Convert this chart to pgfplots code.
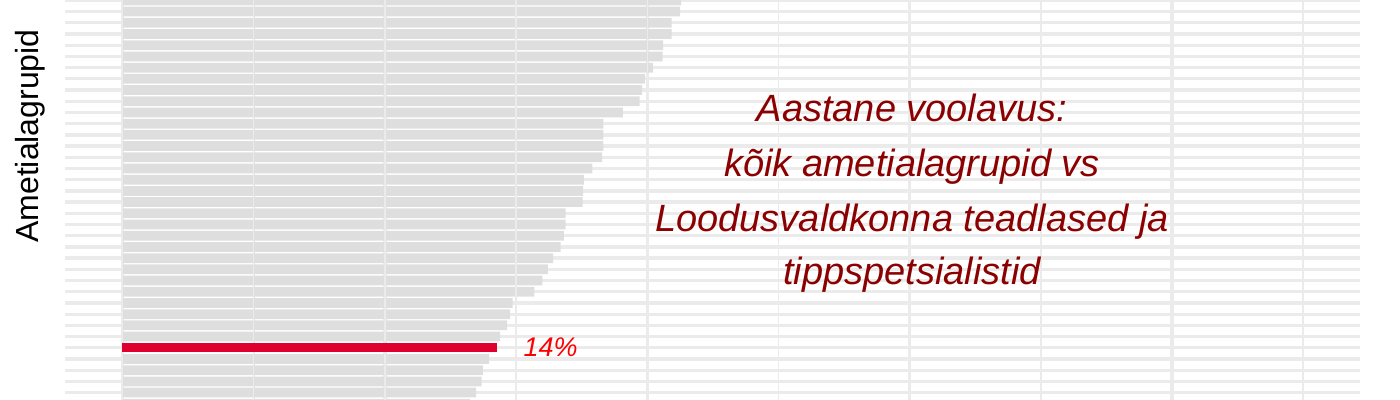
\documentclass[border=0pt]{standalone}
\usepackage{fontspec}
\setmainfont{Liberation Sans}
\usepackage{pgfplots}
\usepackage{pgfplotstable}
\pgfplotsset{compat=1.18}

\definecolor{gridc}{HTML}{EBEBEB}
\definecolor{barc}{HTML}{DEDEDE}
\definecolor{hilite}{RGB}{224,0,48}
\definecolor{titlec}{HTML}{8B0000}

% k = row from the top of the visible part, v = share in %
\pgfplotstableread{
k v
0 21.29
1 21.25
2 20.93
3 20.93
4 20.60
5 20.58
6 20.22
7 19.92
8 19.80
9 19.71
10 19.07
11 18.33
12 18.33
13 18.33
14 18.28
15 17.91
16 17.58
17 17.55
18 17.54
19 16.89
20 16.89
21 16.82
22 16.70
23 16.41
24 16.21
25 16.00
26 15.70
27 14.87
28 14.77
29 14.66
30 14.39
32 13.97
33 13.73
34 13.69
35 13.48
36 13.25
}\grayrows

\pgfplotstableread{
k v
31 14.28
}\redrow

\begin{document}
\begin{tikzpicture}
\useasboundingbox (0,0) rectangle (1400bp,400bp);
\begin{axis}[
    at={(65bp,0bp)}, anchor=south west,
    width=1294.5bp, height=400bp, scale only axis,
    xmin=-2.19, xmax=47.14,
    ymin=-0.036, ymax=35.66, y dir=reverse,
    axis line style={draw=none},
    xtick={0,10,...,40}, minor xtick={5,15,...,45},
    ytick={0,...,36},
    major tick length=0pt, minor tick length=0pt,
    xticklabel={\relax}, yticklabel={\relax},
    xmajorgrids, xminorgrids, ymajorgrids,
    major grid style={gridc, line width=3.3bp},
    minor grid style={gridc, line width=1.7bp},
    ]
    \addplot[xbar, bar width=0.87, fill=barc, draw=none] table[x=v, y=k] {\grayrows};
    \pgfplotsinvokeforeach{0,5,...,45}{
        \draw[gridc, line width=1.3bp] (axis cs:#1,-2) -- (axis cs:#1,40);
    }
    \addplot[xbar, bar width=0.8, fill=hilite, draw=none] table[x=v, y=k] {\redrow};
    \node[anchor=base west, text=red, font=\fontsize{27bp}{32bp}\selectfont\itshape,
          xshift=23bp, yshift=-9bp] at (axis cs:14.28,31) {14\%};
\end{axis}
\node[rotate=90, anchor=base, font=\fontsize{32bp}{38bp}\selectfont] at (38.3bp,264bp) {Ametialagrupid};
\begin{scope}[every node/.style={anchor=base, text=titlec, font=\fontsize{38bp}{54bp}\selectfont\itshape}]
\node at (912bp,278.3bp) {Aastane voolavus:};
\node at (912bp,223.3bp) {kõik ametialagrupid vs};
\node at (912bp,168.3bp) {Loodusvaldkonna teadlased ja};
\node at (912bp,115bp) {tippspetsialistid};
\end{scope}
\end{tikzpicture}
\end{document}
